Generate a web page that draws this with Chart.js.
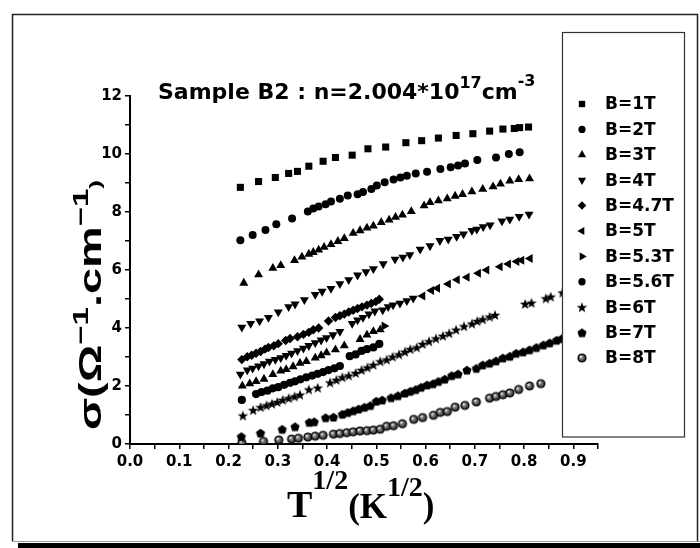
<!DOCTYPE html>
<html lang="en">
<head>
<meta charset="UTF-8">
<title>Sample B2 conductivity</title>
<style>
  html, body { margin: 0; padding: 0; background: #fff; }
  .chartWrap { position: relative; width: 700px; height: 548px; }
</style>
</head>
<body>
<div class="chartWrap"><canvas id="myChart" width="700" height="548"></canvas></div>
<script src="https://cdn.jsdelivr.net/npm/chart.js"></script>
<script>
// legend labels, in the order of the legend box
const seriesLabels = ['B=1T', 'B=2T', 'B=3T', 'B=4T', 'B=4.7T', 'B=5T', 'B=5.3T', 'B=5.6T', 'B=6T', 'B=7T', 'B=8T'];
const xTickLabels = ['0.0', '0.1', '0.2', '0.3', '0.4', '0.5', '0.6', '0.7', '0.8', '0.9'];
const yTickLabels = ['0', '2', '4', '6', '8', '10', '12'];

// T^1/2 (x) and sigma (y) for each field
const x1T = [0.224, 0.261, 0.295, 0.322, 0.340, 0.363, 0.392, 0.417, 0.451, 0.483, 0.519, 0.560, 0.592, 0.626, 0.662, 0.696, 0.730, 0.757, 0.780, 0.791, 0.809];
const y1T = [8.85, 9.05, 9.19, 9.33, 9.40, 9.58, 9.75, 9.88, 9.96, 10.18, 10.24, 10.39, 10.46, 10.55, 10.64, 10.70, 10.79, 10.86, 10.88, 10.91, 10.93];

const x2T = [0.224, 0.249, 0.275, 0.297, 0.329, 0.361, 0.372, 0.383, 0.397, 0.408, 0.426, 0.442, 0.462, 0.473, 0.490, 0.501, 0.517, 0.535, 0.549, 0.562, 0.580, 0.603, 0.630, 0.651, 0.666, 0.680, 0.705, 0.743, 0.769, 0.791];
const y2T = [7.03, 7.21, 7.38, 7.58, 7.78, 8.02, 8.12, 8.19, 8.27, 8.36, 8.46, 8.57, 8.61, 8.69, 8.79, 8.91, 9.03, 9.12, 9.19, 9.25, 9.33, 9.39, 9.48, 9.54, 9.60, 9.67, 9.79, 9.88, 10.00, 10.06];

const x3T = [0.231, 0.261, 0.290, 0.306, 0.334, 0.349, 0.363, 0.372, 0.383, 0.394, 0.408, 0.422, 0.435, 0.453, 0.467, 0.481, 0.494, 0.510, 0.526, 0.539, 0.553, 0.571, 0.597, 0.609, 0.626, 0.644, 0.660, 0.675, 0.694, 0.716, 0.737, 0.752, 0.771, 0.789, 0.811];
const y3T = [5.55, 5.84, 6.06, 6.16, 6.33, 6.45, 6.55, 6.61, 6.69, 6.79, 6.88, 6.99, 7.09, 7.27, 7.36, 7.45, 7.52, 7.64, 7.73, 7.82, 7.90, 8.02, 8.22, 8.33, 8.39, 8.46, 8.55, 8.61, 8.70, 8.79, 8.87, 8.97, 9.07, 9.12, 9.15];

const x4T = [0.227, 0.245, 0.263, 0.281, 0.301, 0.322, 0.335, 0.354, 0.376, 0.390, 0.408, 0.426, 0.444, 0.462, 0.479, 0.494, 0.514, 0.538, 0.554, 0.568, 0.589, 0.609, 0.629, 0.646, 0.663, 0.677, 0.694, 0.704, 0.717, 0.731, 0.755, 0.771, 0.790, 0.810];
const y4T = [4.02, 4.15, 4.24, 4.36, 4.55, 4.73, 4.82, 4.97, 5.15, 5.26, 5.36, 5.52, 5.66, 5.82, 5.94, 6.04, 6.21, 6.37, 6.44, 6.52, 6.71, 6.83, 7.01, 7.06, 7.15, 7.24, 7.36, 7.40, 7.49, 7.55, 7.69, 7.75, 7.84, 7.92];

const x47T = [0.227, 0.238, 0.247, 0.256, 0.265, 0.274, 0.281, 0.292, 0.301, 0.316, 0.325, 0.340, 0.352, 0.363, 0.372, 0.383, 0.403, 0.417, 0.426, 0.435, 0.444, 0.453, 0.462, 0.471, 0.481, 0.490, 0.499, 0.506];
const y47T = [2.91, 3.01, 3.06, 3.13, 3.19, 3.27, 3.33, 3.39, 3.46, 3.57, 3.64, 3.70, 3.78, 3.85, 3.94, 4.00, 4.24, 4.36, 4.42, 4.48, 4.55, 4.61, 4.67, 4.73, 4.79, 4.85, 4.91, 4.99];

const x5T = [0.224, 0.238, 0.249, 0.261, 0.272, 0.283, 0.295, 0.306, 0.317, 0.328, 0.340, 0.352, 0.363, 0.376, 0.388, 0.399, 0.412, 0.426, 0.451, 0.462, 0.473, 0.485, 0.497, 0.513, 0.524, 0.534, 0.548, 0.562, 0.575, 0.594, 0.612, 0.624, 0.646, 0.664, 0.684, 0.707, 0.724, 0.751, 0.768, 0.785, 0.795, 0.812];
const y5T = [2.40, 2.55, 2.61, 2.69, 2.76, 2.85, 2.91, 2.97, 3.05, 3.13, 3.21, 3.30, 3.39, 3.49, 3.58, 3.66, 3.76, 3.88, 4.15, 4.27, 4.36, 4.48, 4.58, 4.62, 4.73, 4.79, 4.85, 4.94, 5.02, 5.10, 5.29, 5.37, 5.52, 5.66, 5.75, 5.89, 6.00, 6.11, 6.21, 6.29, 6.34, 6.40];

const x53T = [0.228, 0.243, 0.256, 0.272, 0.290, 0.306, 0.317, 0.331, 0.345, 0.358, 0.376, 0.388, 0.399, 0.417, 0.435, 0.467, 0.481, 0.494, 0.508, 0.516];
const y53T = [2.00, 2.08, 2.16, 2.24, 2.40, 2.52, 2.57, 2.67, 2.79, 2.85, 2.97, 3.05, 3.15, 3.25, 3.39, 3.61, 3.76, 3.88, 3.94, 4.07];

const x56T = [0.227, 0.256, 0.267, 0.279, 0.290, 0.301, 0.313, 0.325, 0.335, 0.346, 0.358, 0.370, 0.381, 0.392, 0.403, 0.415, 0.426, 0.446, 0.458, 0.470, 0.481, 0.494, 0.506];
const y56T = [1.52, 1.72, 1.79, 1.84, 1.92, 1.96, 2.04, 2.11, 2.16, 2.23, 2.30, 2.36, 2.42, 2.48, 2.55, 2.61, 2.69, 3.03, 3.09, 3.21, 3.27, 3.33, 3.45];

const x6T = [0.229, 0.250, 0.265, 0.277, 0.288, 0.299, 0.310, 0.322, 0.334, 0.345, 0.363, 0.381, 0.406, 0.419, 0.431, 0.444, 0.458, 0.470, 0.482, 0.494, 0.508, 0.521, 0.533, 0.546, 0.558, 0.569, 0.582, 0.594, 0.607, 0.621, 0.635, 0.648, 0.662, 0.678, 0.694, 0.705, 0.716, 0.730, 0.741, 0.802, 0.815, 0.844, 0.854, 0.878];
const y6T = [0.98, 1.17, 1.27, 1.33, 1.39, 1.45, 1.52, 1.58, 1.64, 1.70, 1.88, 1.94, 2.12, 2.21, 2.30, 2.36, 2.45, 2.55, 2.64, 2.73, 2.85, 2.91, 3.01, 3.09, 3.18, 3.27, 3.33, 3.45, 3.54, 3.64, 3.73, 3.82, 3.94, 4.06, 4.15, 4.24, 4.30, 4.39, 4.45, 4.83, 4.87, 5.02, 5.08, 5.22];

const x7T = [0.226, 0.265, 0.309, 0.335, 0.364, 0.374, 0.397, 0.413, 0.431, 0.442, 0.453, 0.464, 0.476, 0.488, 0.500, 0.512, 0.530, 0.544, 0.558, 0.569, 0.580, 0.591, 0.603, 0.615, 0.626, 0.639, 0.653, 0.666, 0.684, 0.703, 0.716, 0.730, 0.743, 0.757, 0.771, 0.784, 0.798, 0.811, 0.825, 0.839, 0.852, 0.866, 0.877];
const y7T = [0.26, 0.38, 0.51, 0.60, 0.75, 0.77, 0.91, 0.93, 1.03, 1.09, 1.15, 1.21, 1.27, 1.33, 1.48, 1.52, 1.60, 1.67, 1.76, 1.82, 1.88, 1.96, 2.04, 2.08, 2.16, 2.24, 2.36, 2.42, 2.55, 2.61, 2.73, 2.79, 2.87, 2.97, 3.03, 3.13, 3.18, 3.25, 3.33, 3.42, 3.49, 3.58, 3.64];

const x8T = [0.227, 0.271, 0.302, 0.328, 0.342, 0.361, 0.376, 0.392, 0.413, 0.426, 0.440, 0.453, 0.467, 0.481, 0.494, 0.508, 0.521, 0.535, 0.553, 0.576, 0.594, 0.616, 0.630, 0.644, 0.660, 0.680, 0.703, 0.730, 0.743, 0.757, 0.771, 0.789, 0.811, 0.834];
const y8T = [0.04, 0.09, 0.14, 0.17, 0.20, 0.24, 0.27, 0.30, 0.34, 0.36, 0.39, 0.42, 0.45, 0.46, 0.48, 0.51, 0.61, 0.63, 0.70, 0.85, 0.91, 0.99, 1.09, 1.12, 1.27, 1.33, 1.45, 1.58, 1.64, 1.70, 1.76, 1.88, 2.00, 2.08];

const xSeries = [x1T, x2T, x3T, x4T, x47T, x5T, x53T, x56T, x6T, x7T, x8T];
const ySeries = [y1T, y2T, y3T, y4T, y47T, y5T, y53T, y56T, y6T, y7T, y8T];

// small canvas markers for the shapes Chart.js has no filled version of
function makeMarker(draw) {
    const c = document.createElement('canvas');
    c.width = 12; c.height = 12;
    draw(c.getContext('2d'), 6);
    return c;
}
const starMark = makeMarker((g, c) => {
    g.beginPath();
    for (let i = 0; i < 10; i++) {
        const r = i % 2 ? 2.3 : 5.5;
        const a = -Math.PI / 2 + i * Math.PI / 5;
        g.lineTo(c + r * Math.cos(a), c + 0.5 + r * Math.sin(a));
    }
    g.closePath();
    g.fillStyle = '#000';
    g.fill();
});
const pentMark = makeMarker((g, c) => {
    g.beginPath();
    for (let i = 0; i < 5; i++) {
        const a = -Math.PI / 2 + i * 2 * Math.PI / 5;
        g.lineTo(c + 4.8 * Math.cos(a), c + 0.5 + 4.8 * Math.sin(a));
    }
    g.closePath();
    g.fillStyle = '#000';
    g.fill();
});
const ballMark = makeMarker((g, c) => {
    const grad = g.createRadialGradient(c - 1.3, c - 1.3, 0.2, c, c, 4.3);
    grad.addColorStop(0, '#fff');
    grad.addColorStop(0.3, '#888');
    grad.addColorStop(1, '#111');
    g.beginPath();
    g.arc(c, c, 4, 0, Math.PI * 2);
    g.fillStyle = grad;
    g.fill();
    g.lineWidth = 1.2;
    g.strokeStyle = '#000';
    g.stroke();
});

// [pointStyle, radius, rotation] per series; 5T and 5.3T change shape along the run
const markerStyles = [
    ['rect', 5, 0],
    ['circle', 4, 0],
    ['triangle', 5.2, 0],
    ['triangle', 5.2, 180],
    ['rectRot', 4.7, 0],
    ['triangle', 5.2, 270],
    ['triangle', 5.2, 90],
    ['circle', 4.1, 0],
    [starMark, 5, 0],
    [pentMark, 5, 0],
    [ballMark, 5, 0]
];

const datasets = seriesLabels.map((label, i) => ({
    label: label,
    data: xSeries[i].map((x, j) => ({ x: x, y: ySeries[i][j] })),
    showLine: false,
    backgroundColor: '#000',
    borderColor: '#000',
    borderWidth: 0,
    pointStyle: markerStyles[i][0],
    pointRadius: markerStyles[i][1],
    pointRotation: markerStyles[i][2]
}));
// B=5T starts with down triangles, B=5.3T with up triangles
datasets[5].pointRotation = (c) => (c.raw && c.raw.x < 0.585 ? 180 : 270);
datasets[6].pointRotation = (c) => (c.dataIndex === x53T.length - 1 ? 90 : 0);

const sans = '"DejaVu Sans", sans-serif';
const arial = '"Liberation Sans", sans-serif';
const serif = '"Liberation Serif", "DejaVu Serif", serif';

function textRun(ctx, x, y, parts, measureOnly) {
    let cx = x;
    parts.forEach(([t, size, dy, fam]) => {
        ctx.font = 'bold ' + size + 'px ' + (fam || sans);
        if (!measureOnly) ctx.fillText(t, cx, y + dy);
        cx += ctx.measureText(t).width;
    });
    return cx - x;
}

const yTitleParts = [
    ['σ(Ω', 27, 0, arial],
    ['−1', 19, -11, arial],
    ['.cm', 27, 0, arial],
    ['−1', 19, -11, arial],
    [')', 15, 0, arial]
];

const decorations = {
    id: 'decorations',
    beforeDraw(chart) {
        const ctx = chart.ctx;
        ctx.save();
        ctx.fillStyle = '#fff';
        ctx.fillRect(0, 0, chart.width, chart.height);
        // figure frame
        ctx.strokeStyle = '#222';
        ctx.lineWidth = 1.5;
        ctx.beginPath();
        ctx.moveTo(12.5, 541);
        ctx.lineTo(12.5, 14.5);
        ctx.lineTo(697.5, 14.5);
        ctx.lineTo(697.5, 541);
        ctx.stroke();
        ctx.strokeStyle = '#999';
        ctx.lineWidth = 1;
        ctx.beginPath();
        ctx.moveTo(12, 541.5);
        ctx.lineTo(700, 541.5);
        ctx.stroke();
        ctx.fillStyle = '#000';
        ctx.fillRect(18, 543, 682, 5);
        ctx.restore();
    },
    afterDraw(chart) {
        const ctx = chart.ctx;
        ctx.save();
        ctx.fillStyle = '#000';
        ctx.textBaseline = 'alphabetic';
        ctx.textAlign = 'left';

        // title
        textRun(ctx, 158, 99, [
            ['Sample B2 : n=2.004*10', 22, 0],
            ['17', 16, -11],
            ['cm', 22, 0],
            ['-3', 16, -13]
        ]);

        // x axis title
        textRun(ctx, 287, 517, [
            ['T', 38, 0, serif],
            ['1/2', 28, -28, serif],
            ['(K', 35, 1, serif],
            ['1/2', 28, -21, serif],
            [')', 35, 0, serif]
        ]);

        // y axis title, stretched along its length as in the figure
        ctx.save();
        const w = textRun(ctx, 0, 0, yTitleParts, true);
        ctx.translate(101, 430);
        ctx.rotate(-Math.PI / 2);
        ctx.scale(250 / w, 1.15);
        textRun(ctx, 0, 0, yTitleParts);
        ctx.restore();

        // legend box drawn over the plot
        ctx.fillStyle = '#fff';
        ctx.fillRect(562, 32, 122, 405);
        ctx.strokeStyle = '#333';
        ctx.lineWidth = 1.2;
        ctx.strokeRect(562.5, 32.5, 122, 404.5);
        ctx.textBaseline = 'middle';
        seriesLabels.forEach((label, i) => {
            const y = 104 + i * 25.4;
            const st = markerStyles[i];
            ctx.fillStyle = '#000';
            ctx.strokeStyle = '#000';
            if (Chart.helpers && Chart.helpers.drawPoint) {
                Chart.helpers.drawPoint(ctx, { pointStyle: st[0], radius: st[1] * 0.9, rotation: st[2], borderWidth: 0 }, 582, y);
            } else {
                ctx.fillRect(579, y - 3, 6, 6);
            }
            ctx.fillStyle = '#000';
            ctx.font = 'bold 17px ' + sans;
            ctx.fillText(label, 605, y + 1);
        });
        ctx.restore();
    }
};

const tickFont = { family: 'DejaVu Sans', weight: 'bold', size: 15 };

const option = {
    responsive: false,
    animation: false,
    events: [],
    layout: { padding: { top: 96, right: 102, bottom: 0, left: 0 } },
    plugins: {
        legend: { display: false },
        tooltip: { enabled: false },
        title: { display: false }
    },
    scales: {
        x: {
            type: 'linear',
            min: 0,
            max: 0.95,
            border: { display: true, color: '#000', width: 2 },
            grid: { display: true, drawOnChartArea: false, drawTicks: true, tickLength: 5, color: '#000', lineWidth: 1.5 },
            ticks: {
                stepSize: 0.05,
                autoSkip: false,
                maxRotation: 0,
                color: '#000',
                padding: 4,
                font: tickFont,
                callback: (v) => {
                    const k = Math.round(v * 20);
                    return k % 2 === 0 && xTickLabels[k / 2] ? xTickLabels[k / 2] : '';
                }
            },
            afterFit: (s) => { s.height = 104; }
        },
        y: {
            type: 'linear',
            min: 0,
            max: 12,
            border: { display: true, color: '#000', width: 2 },
            grid: { display: true, drawOnChartArea: false, drawTicks: true, tickLength: 5, color: '#000', lineWidth: 1.5 },
            ticks: {
                stepSize: 1,
                autoSkip: false,
                color: '#000',
                padding: 3,
                font: tickFont,
                callback: (v) => {
                    const k = Math.round(v);
                    return k % 2 === 0 ? yTickLabels[k / 2] : '';
                }
            },
            afterFit: (s) => { s.width = 130; }
        }
    }
};

let ctx = document.getElementById('myChart').getContext('2d');
let myChart = new Chart(ctx, {
    type: 'scatter',
    data: { datasets: datasets },
    options: option,
    plugins: [decorations]
});
</script>
</body>
</html>
